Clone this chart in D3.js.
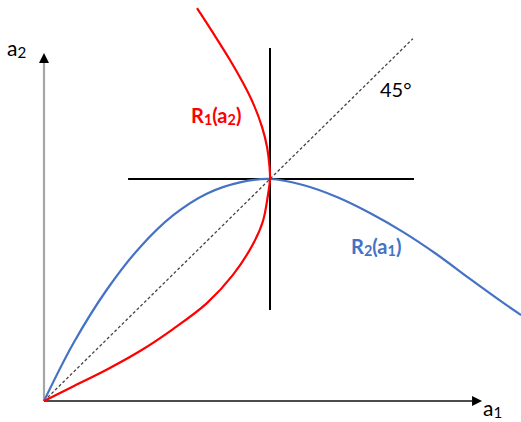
<!DOCTYPE html>
<html>
<head>
<meta charset="utf-8">
<script src="https://cdn.jsdelivr.net/npm/d3@7"></script>
<style>
  html, body { margin: 0; padding: 0; background: #fff; }
  svg { display: block; font-family: Lato, "Open Sans", sans-serif; }
</style>
</head>
<body>
<svg id="chart" width="521" height="422"></svg>
<script>
// Reaction curves R1 (firm 1's best response to a2) and R2 (firm 2's best response to a1)
// R1: a1 as a function of a2
const r1A2 = [0, 0.068, 0.142, 0.225, 0.324, 0.441, 0.568, 0.707, 0.811, 0.928, 1.0, 1.054, 1.144, 1.234, 1.342, 1.432, 1.536, 1.658, 1.770];
const r1A1 = [0, 0.133, 0.279, 0.425, 0.571, 0.721, 0.836, 0.925, 0.969, 0.991, 1.0, 0.998, 0.987, 0.965, 0.925, 0.881, 0.823, 0.748, 0.677];

// R2: a2 as a function of a1
const r2A1 = [0, 0.130, 0.277, 0.425, 0.572, 0.720, 0.867, 1.0, 1.146, 1.296, 1.442, 1.588, 1.739, 1.885, 2.031, 2.111];
const r2A2 = [0, 0.260, 0.500, 0.693, 0.837, 0.934, 0.985, 1.0, 0.973, 0.919, 0.847, 0.762, 0.660, 0.550, 0.443, 0.387];

// Equilibrium point and the crosshair through it
const equilibrium = [1, 1];
const crossH = [0.372, 1.637];   // a1 extent of horizontal line
const crossV = [0.410, 1.590];   // a2 extent of vertical line

// 45-degree reference line end
const diagEnd = 1.632;

// Axis extents (data units), arrowheads drawn beyond these
const axisA1Max = 1.894;
const axisA2Max = 1.523;

const labels = {
  r1: ["R", "1", "(a", "2", ")"],
  r2: ["R", "2", "(a", "1", ")"]
};

const svg = d3.select("#chart");

const x = d3.scaleLinear().domain([0, 1]).range([44, 270]);
const y = d3.scaleLinear().domain([0, 1]).range([401, 179]);

// arrowhead marker
const defs = svg.append("defs");
defs.append("marker")
  .attr("id", "arrow")
  .attr("viewBox", "0 0 10 10")
  .attr("refX", 0).attr("refY", 5)
  .attr("markerWidth", 11).attr("markerHeight", 10)
  .attr("markerUnits", "userSpaceOnUse")
  .attr("orient", "auto")
  .append("path")
  .attr("d", "M0,0 L10,5 L0,10 Z")
  .attr("fill", "#000");

// axes
svg.append("line")
  .attr("x1", x(0)).attr("y1", y(0))
  .attr("x2", x(0)).attr("y2", y(axisA2Max))
  .attr("stroke", "#a6a6a6").attr("stroke-width", 2.2)
  .attr("marker-end", "url(#arrow)");

svg.append("line")
  .attr("x1", x(0)).attr("y1", y(0))
  .attr("x2", x(axisA1Max)).attr("y2", y(0))
  .attr("stroke", "#111").attr("stroke-width", 1.6)
  .attr("marker-end", "url(#arrow)");

// 45-degree line
svg.append("line")
  .attr("x1", x(0)).attr("y1", y(0))
  .attr("x2", x(diagEnd)).attr("y2", y(diagEnd))
  .attr("stroke", "#444").attr("stroke-width", 1.3)
  .attr("stroke-dasharray", "3,2.2");

// crosshair
svg.append("line")
  .attr("x1", x(crossH[0])).attr("x2", x(crossH[1]))
  .attr("y1", y(equilibrium[1])).attr("y2", y(equilibrium[1]))
  .attr("stroke", "#000").attr("stroke-width", 2);
svg.append("line")
  .attr("x1", x(equilibrium[0])).attr("x2", x(equilibrium[0]))
  .attr("y1", y(crossV[0])).attr("y2", y(crossV[1]))
  .attr("stroke", "#000").attr("stroke-width", 2);

// curves
const line = d3.line().curve(d3.curveCatmullRom.alpha(0.5));

svg.append("path")
  .attr("d", line(r2A1.map((a, i) => [x(a), y(r2A2[i])])))
  .attr("fill", "none").attr("stroke", "#4472c4").attr("stroke-width", 2.2);

svg.append("path")
  .attr("d", line(r1A2.map((b, i) => [x(r1A1[i]), y(b)])))
  .attr("fill", "none").attr("stroke", "#ff0000").attr("stroke-width", 2.2);

// text helper with subscripts
function subLabel(parts, px, py, color, size, bold) {
  const t = svg.append("text")
    .attr("x", px).attr("y", py)
    .attr("fill", color)
    .attr("font-size", size)
    .attr("font-weight", bold ? "bold" : "normal");
  parts.forEach((p, i) => {
    const isSub = i % 2 === 1;
    const ts = t.append("tspan").text(p)
      .attr("font-size", isSub ? size * 0.72 : size);
    if (isSub) ts.attr("dy", size * 0.1);
    else if (i > 0) ts.attr("dy", -size * 0.1);
  });
  return t;
}

subLabel(labels.r1, 191, 123, "#ff0000", 20, true);
subLabel(labels.r2, 351, 254, "#4472c4", 20, true);

subLabel(["a", "2"], 7, 56, "#000", 21, false);
subLabel(["a", "1"], 483, 416, "#000", 21, false);

svg.append("text")
  .attr("x", 380).attr("y", 97)
  .attr("font-size", 20)
  .attr("fill", "#000")
  .text("45°");
</script>
</body>
</html>
